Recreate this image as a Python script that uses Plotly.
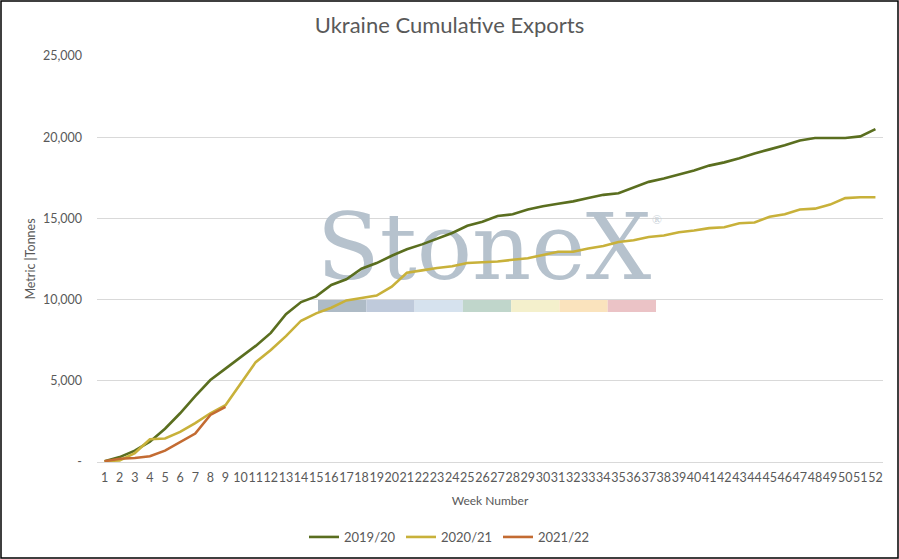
import plotly.graph_objects as go

# week numbers and cumulative exports (thousand metric tonnes)
weeks = list(range(1, 53))
exports_2019_20 = [50, 300, 700, 1250, 2050, 3000, 4050, 5050, 5750, 6450,
                   7150, 7950, 9100, 9850, 10200, 10900, 11250, 11900, 12250, 12700,
                   13100, 13400, 13750, 14100, 14550, 14800, 15150, 15250, 15550, 15750,
                   15900, 16050, 16250, 16450, 16550, 16900, 17250, 17450, 17700, 17950,
                   18250, 18450, 18700, 19000, 19250, 19500, 19800, 19950, 19950, 19950,
                   20050, 20500]
exports_2020_21 = [50, 100, 550, 1400, 1450, 1850, 2400, 3000, 3500, 4850,
                   6150, 6900, 7750, 8700, 9150, 9500, 9950, 10100, 10250, 10800,
                   11650, 11800, 11950, 12050, 12250, 12300, 12350, 12450, 12550, 12750,
                   12950, 12950, 13150, 13300, 13550, 13650, 13850, 13950, 14150, 14250,
                   14400, 14450, 14700, 14750, 15100, 15250, 15550, 15600, 15850, 16250,
                   16300, 16300]
exports_2021_22 = [50, 200, 250, 350, 700, 1200, 1750, 2900, 3400]

y_ticks = [0, 5000, 10000, 15000, 20000, 25000]
y_tick_text = ['-', '5,000', '10,000', '15,000', '20,000', '25,000']

W, H = 899, 559
ML, MR, MT, MB = 97, 16, 56, 97
pw, ph = W - ML - MR, H - MT - MB
grey = '#595959'
font = 'Lato'

fig = go.Figure()

# watermark text, drawn first so the lines sit on top of it
fig.add_scatter(x=[26.1], y=[12700], mode='text', text=['StoneX'],
                textfont=dict(family='DejaVu Serif', size=92, color='#b6c2cd'),
                hoverinfo='skip', showlegend=False)

fig.add_scatter(x=weeks, y=exports_2019_20, name='2019/20', mode='lines',
                line=dict(color='#5a6e1f', width=2.6))
fig.add_scatter(x=weeks, y=exports_2020_21, name='2020/21', mode='lines',
                line=dict(color='#c8b13a', width=2.6))
fig.add_scatter(x=weeks[:len(exports_2021_22)], y=exports_2021_22, name='2021/22', mode='lines',
                line=dict(color='#c36b32', width=2.6))

# watermark colour strip
strip = ['#aebbc6', '#bfcadb', '#d6e2ee', '#c0d6cb', '#f4f0cc', '#fae3bd', '#ebc3c6']
sx0, sx1 = (318 - ML) / pw, (656 - ML) / pw
sy0, sy1 = (H - MB - 312) / ph, (H - MB - 300) / ph
step = (sx1 - sx0) / len(strip)
for i, c in enumerate(strip):
    fig.add_shape(type='rect', xref='paper', yref='paper', layer='between',
                  x0=sx0 + i * step, x1=sx0 + (i + 1) * step, y0=sy0, y1=sy1,
                  fillcolor=c, line_width=0)

fig.add_annotation(text='®', xref='paper', yref='paper', x=(664 - ML) / pw, y=(H - MB - 219) / ph,
                   showarrow=False, font=dict(family='Liberation Serif', size=13, color='#c8d0d8'))

# outer frame
fig.add_shape(type='rect', xref='paper', yref='paper',
              x0=-(ML - 1) / pw, x1=1 + (MR - 1) / pw, y0=-(MB - 1) / ph, y1=1 + (MT - 1) / ph,
              line=dict(color='black', width=1.5))

fig.update_layout(
    width=W, height=H,
    margin=dict(l=ML, r=MR, t=MT, b=MB, autoexpand=False),
    paper_bgcolor='white', plot_bgcolor='white',
    font=dict(family=font, color=grey, size=12),
    title=dict(text='Ukraine Cumulative Exports', x=0.5, xanchor='center',
               y=(H - 25) / H, yanchor='middle', yref='container',
               font=dict(size=22, color=grey)),
    legend=dict(orientation='h', x=0.5, xanchor='center', xref='container',
                y=(H - 537) / H, yanchor='middle', yref='container',
                itemwidth=30, entrywidth=52, font=dict(size=13, color=grey)),
    showlegend=True,
)
fig.update_xaxes(range=[0.5, 52.5], tickmode='linear', dtick=1, tick0=1, tickangle=0,
                 showgrid=False, showline=True, linecolor='#d9d9d9', ticks='',
                 tickfont=dict(size=12.5), zeroline=False, automargin=False, ticklabelstandoff=4,
                 title=dict(text='Week Number', font=dict(size=12), standoff=12))
fig.update_yaxes(range=[0, 25000], tickvals=y_ticks, ticktext=y_tick_text,
                 showgrid=True, gridcolor='#d9d9d9', zeroline=False, ticks='',
                 tickfont=dict(size=12.5), ticklabelstandoff=14, automargin=False,
                 title=dict(text='Metric |Tonnes', font=dict(size=12.5), standoff=4))

fig.write_html('out.html', config={'displayModeBar': False},
               post_script="document.body.style.margin='0';")
